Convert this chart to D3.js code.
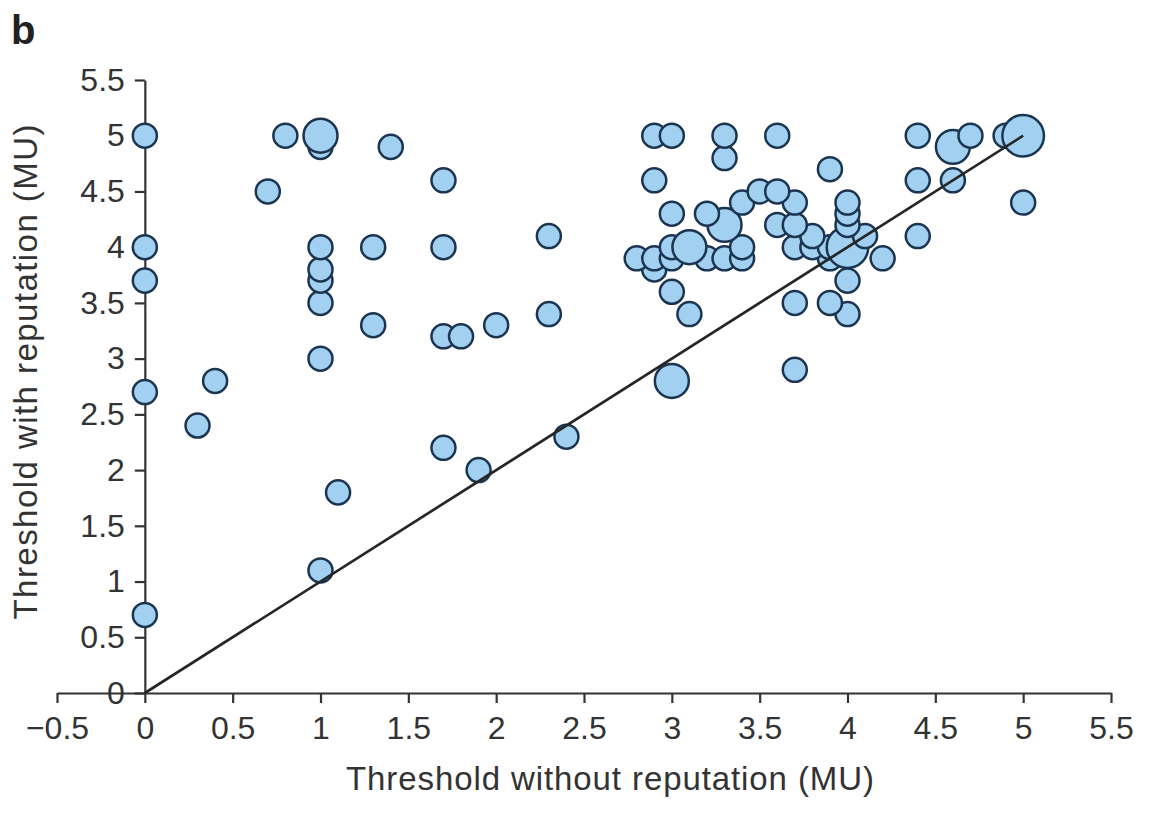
<!DOCTYPE html>
<html>
<head>
<meta charset="utf-8">
<script src="https://cdn.jsdelivr.net/npm/d3@7"></script>
<style>
	body { margin: 0; background: #fff; }
	text { font-family: "Liberation Sans", Arial, Helvetica, sans-serif; fill: #333; }
</style>
</head>
<body>
<svg id="scatter"></svg>
<script>
// threshold without reputation (x), with reputation (y), number of subjects at that point
let withoutRep = [0, 0, 0, 0, 0, 0.3, 0.4, 0.7, 0.8, 1.0,
	1.0, 1.0, 1.0, 1.0, 1.0, 1.0, 1.0, 1.1, 1.3, 1.3,
	1.4, 1.7, 1.7, 1.7, 1.7, 1.8, 1.9, 2.0, 2.3, 2.3,
	2.4, 2.8, 2.9, 2.9, 2.9, 2.9, 3.0, 3.0, 3.0, 3.0,
	3.0, 3.0, 3.1, 3.1, 3.2, 3.2, 3.3, 3.3, 3.3, 3.3,
	3.4, 3.4, 3.4, 3.5, 3.6, 3.6, 3.6, 3.7, 3.7, 3.7,
	3.7, 3.7, 3.8, 3.8, 3.9, 3.9, 3.9, 3.9, 4.0, 4.0,
	4.0, 4.0, 4.0, 4.0, 4.1, 4.2, 4.4, 4.4, 4.4, 4.6,
	4.6, 4.7, 4.9, 5.0, 5.0];
let withRep = [5.0, 4.0, 3.7, 2.7, 0.7, 2.4, 2.8, 4.5, 5.0, 4.9,
	5.0, 4.0, 3.8, 3.7, 3.5, 3.0, 1.1, 1.8, 4.0, 3.3,
	4.9, 4.6, 4.0, 3.2, 2.2, 3.2, 2.0, 3.3, 4.1, 3.4,
	2.3, 3.9, 5.0, 4.6, 3.9, 3.8, 5.0, 4.3, 4.0, 3.9,
	3.6, 2.8, 4.0, 3.4, 4.3, 3.9, 5.0, 4.8, 4.2, 3.9,
	4.4, 4.0, 3.9, 4.5, 5.0, 4.5, 4.2, 4.4, 4.2, 4.0,
	3.5, 2.9, 4.1, 4.0, 4.7, 4.0, 3.9, 3.5, 4.4, 4.3,
	4.2, 4.0, 3.7, 3.4, 4.1, 3.9, 5.0, 4.6, 4.1, 4.9,
	4.6, 5.0, 5.0, 5.0, 4.4];
let nSubjects = [1, 1, 1, 1, 1, 1, 1, 1, 1, 1,
	2, 1, 1, 1, 1, 1, 1, 1, 1, 1,
	1, 1, 1, 1, 1, 1, 1, 1, 1, 1,
	1, 1, 1, 1, 1, 1, 1, 1, 1, 1,
	1, 2, 2, 1, 1, 1, 1, 1, 2, 1,
	1, 1, 1, 1, 1, 1, 1, 1, 1, 1,
	1, 1, 1, 1, 1, 1, 1, 1, 1, 1,
	1, 3, 1, 1, 1, 1, 1, 1, 1, 2,
	1, 1, 1, 3, 1];

let xTicks = [-0.5, 0, 0.5, 1, 1.5, 2, 2.5, 3, 3.5, 4, 4.5, 5, 5.5];
let yTicks = [0, 0.5, 1, 1.5, 2, 2.5, 3, 3.5, 4, 4.5, 5, 5.5];
let diagonal = [[0, 0], [5, 5]];

function makeChart() {
	let w = 1151;
	let h = 814;

	let chart = d3.select('#scatter')
		.attr('width', w)
		.attr('height', h);

	let x = d3.scaleLinear().domain([-0.5, 5.5]).range([57, 1111]);
	let y = d3.scaleLinear().domain([0, 5.5]).range([693, 80]);
	let r = d3.scaleSqrt().domain([0, 3]).range([0, 20.8]);
	let fmt = d3.format('~g');

	let points = withoutRep.map((d, i) => ({x: d, y: withRep[i], n: nSubjects[i]}))
		.sort((a, b) => (a.y - b.y) || (a.n - b.n));

	// x axis
	chart.append('g')
		.attr('transform', `translate(0,${y(0)})`)
		.call(d3.axisBottom(x)
			.tickValues(xTicks)
			.tickSize(10)
			.tickSizeOuter(0)
			.tickPadding(13)
			.tickFormat(fmt));

	// y axis sits at x = 0
	chart.append('g')
		.attr('transform', `translate(${x(0)},0)`)
		.call(d3.axisLeft(y)
			.tickValues(yTicks)
			.tickSize(10)
			.tickSizeOuter(0)
			.tickPadding(10)
			.tickFormat(fmt));

	chart.selectAll('.domain, .tick line')
		.attr('stroke', '#333')
		.attr('stroke-width', 2.2);
	chart.selectAll('.tick text')
		.attr('fill', '#333')
		.style('font-size', '32px');

	chart.selectAll('circle')
		.data(points)
		.enter()
		.append('circle')
		.attr('cx', d => x(d.x))
		.attr('cy', d => y(d.y))
		.attr('r', d => r(d.n))
		.style('fill', '#a2d0f0')
		.style('stroke', '#1b3550')
		.style('stroke-width', 2.5);

	chart.append('path')
		.datum(diagonal)
		.attr('d', d3.line().x(d => x(d[0])).y(d => y(d[1])))
		.attr('fill', 'none')
		.attr('stroke', '#262626')
		.attr('stroke-width', 2.7);

	chart.append('text')
		.attr('x', 610)
		.attr('y', 790)
		.attr('text-anchor', 'middle')
		.attr('textLength', 528)
		.attr('lengthAdjust', 'spacing')
		.style('font-size', '33px')
		.text('Threshold without reputation (MU)');

	chart.append('text')
		.attr('transform', 'translate(37,372) rotate(-90)')
		.attr('text-anchor', 'middle')
		.attr('textLength', 495)
		.attr('lengthAdjust', 'spacing')
		.style('font-size', '33px')
		.text('Threshold with reputation (MU)');

	chart.append('text')
		.attr('x', 11)
		.attr('y', 44)
		.style('font-size', '40px')
		.style('font-weight', 'bold')
		.style('fill', '#222')
		.text('b');
}

window.onload = function () {
	makeChart();
}
</script>
</body>
</html>
